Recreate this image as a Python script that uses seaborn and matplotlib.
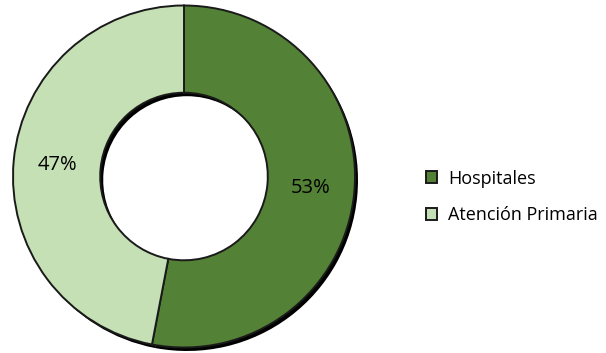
import matplotlib
matplotlib.use("Agg")
import matplotlib.pyplot as plt
import seaborn as sns

# Share of spending by care level
categories = ["Hospitales", "Atención Primaria"]
shares = [53, 47]
colors = ["#538135", "#C5E0B4"]

sns.set_theme(style="white")
plt.rcParams["font.family"] = ["Open Sans", "DejaVu Sans"]
palette = sns.color_palette(colors)

W, H = 606, 353
fig = plt.figure(figsize=(W / 100, H / 100), dpi=100)
fig.patch.set_facecolor("white")

cx, cy, r = 184, 176.5, 171
ax = fig.add_axes([(cx - r) / W, (H - cy - r) / H, 2 * r / W, 2 * r / H])
ax.set_aspect("equal")
ax.axis("off")

ring = dict(width=0.51)
px = 1 / r

# drop shadow beneath the ring, shifted right and down
ax.pie(shares, colors=["black", "black"], startangle=90, counterclock=False,
       radius=1.0, center=(3 * px, -3.5 * px), wedgeprops=dict(ring, linewidth=0))

wedges, _, autotexts = ax.pie(
    shares, colors=palette, startangle=90, counterclock=False, radius=1.0,
    autopct=lambda p: f"{p:.0f}%", pctdistance=0.745,
    wedgeprops=dict(ring, edgecolor="#1a1a1a", linewidth=1.4),
    textprops=dict(fontsize=14.5, color="black"),
)
ax.set_xlim(-1.0, 1.0)
ax.set_ylim(-1.0, 1.0)

fig.legend(wedges, categories, loc="center left",
           bbox_to_anchor=(410 / W, 1 - 197 / H), frameon=False,
           handlelength=0.6, handleheight=0.6, handletextpad=0.6,
           labelspacing=1.05, fontsize=13, labelcolor="black")

fig.savefig("out.png", dpi=100, facecolor="white")
